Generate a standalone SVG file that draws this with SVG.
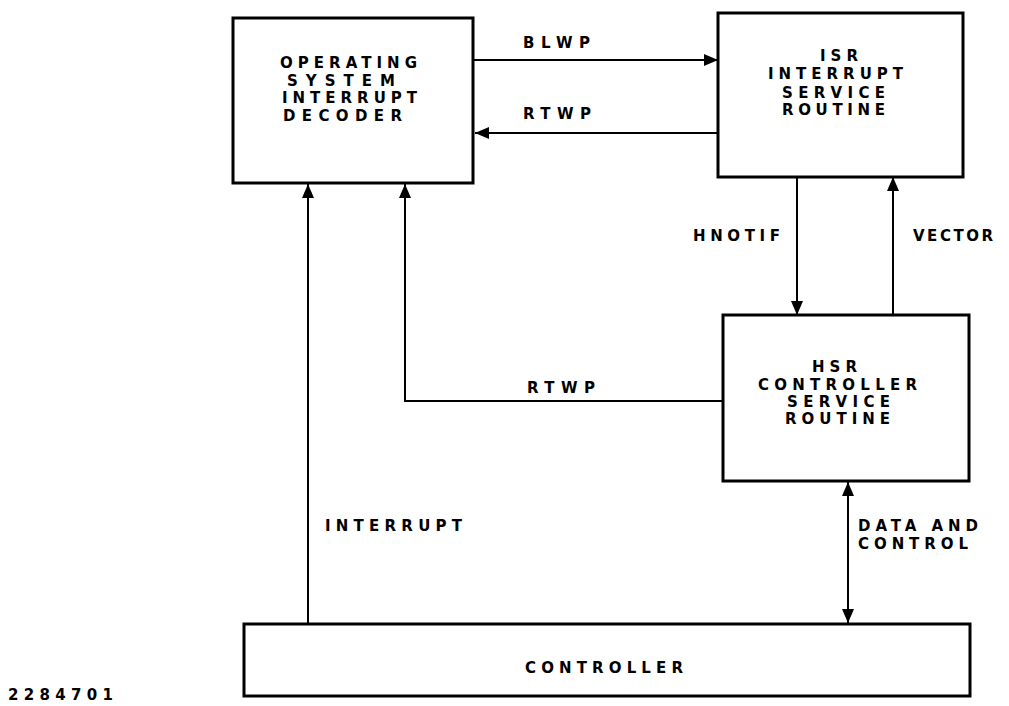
<svg xmlns="http://www.w3.org/2000/svg" width="1009" height="706" viewBox="0 0 1009 706">
<style>
.box{fill:#fff;stroke:#000;stroke-width:3}
.ln{fill:none;stroke:#000;stroke-width:2}
text{font-family:"DejaVu Sans","Liberation Sans",sans-serif;font-size:15px;font-weight:bold;fill:#000}
</style>
<defs>
<marker id="ah" markerUnits="userSpaceOnUse" markerWidth="14" markerHeight="12" refX="14" refY="6" orient="auto-start-reverse">
<path d="M0,0 L14,6 L0,12 z" fill="#000"/>
</marker>
</defs>
<rect width="1009" height="706" fill="#fff"/>
<g id="connectors">
<path class="ln" d="M474,60 H718" marker-end="url(#ah)"/>
<path class="ln" d="M718,133 H475" marker-end="url(#ah)"/>
<path class="ln" d="M797,177 V315" marker-end="url(#ah)"/>
<path class="ln" d="M893,315 V177" marker-end="url(#ah)"/>
<path class="ln" d="M723,401 H405 V184" marker-end="url(#ah)"/>
<path class="ln" d="M308,624 V184" marker-end="url(#ah)"/>
<path class="ln" d="M848,482 V623" marker-start="url(#ah)" marker-end="url(#ah)"/>
<text x="523" y="48" textLength="67" lengthAdjust="spacing">BLWP</text>
<text x="523" y="119" textLength="68" lengthAdjust="spacing">RTWP</text>
<text x="693" y="241" textLength="87" lengthAdjust="spacing">HNOTIF</text>
<text x="913" y="241" textLength="80" lengthAdjust="spacing">VECTOR</text>
<text x="527" y="393" textLength="68" lengthAdjust="spacing">RTWP</text>
<text x="325" y="531" textLength="137" lengthAdjust="spacing">INTERRUPT</text>
<text x="858" y="531" textLength="120" lengthAdjust="spacing">DATA AND</text>
<text x="858" y="549" textLength="110" lengthAdjust="spacing">CONTROL</text>
</g>
<g id="os">
<rect class="box" x="233" y="18" width="240" height="165"/>
<text x="280" y="68" textLength="137" lengthAdjust="spacing">OPERATING</text>
<text x="287" y="86" textLength="108" lengthAdjust="spacing">SYSTEM</text>
<text x="282" y="103" textLength="135" lengthAdjust="spacing">INTERRUPT</text>
<text x="283" y="121" textLength="119" lengthAdjust="spacing">DECODER</text>
</g>
<g id="isr">
<rect class="box" x="718" y="13" width="245" height="164"/>
<text x="820" y="61" textLength="38" lengthAdjust="spacing">ISR</text>
<text x="768" y="79" textLength="135" lengthAdjust="spacing">INTERRUPT</text>
<text x="782" y="98" textLength="103" lengthAdjust="spacing">SERVICE</text>
<text x="782" y="115" textLength="103" lengthAdjust="spacing">ROUTINE</text>
</g>
<g id="hsr">
<rect class="box" x="723" y="315" width="246" height="166"/>
<text x="812" y="372" textLength="45" lengthAdjust="spacing">HSR</text>
<text x="758" y="390" textLength="159" lengthAdjust="spacing">CONTROLLER</text>
<text x="787" y="407" textLength="103" lengthAdjust="spacing">SERVICE</text>
<text x="785" y="424" textLength="105" lengthAdjust="spacing">ROUTINE</text>
</g>
<g id="controller">
<rect class="box" x="244" y="624" width="726" height="72"/>
<text x="525" y="673" textLength="158" lengthAdjust="spacing">CONTROLLER</text>
</g>
<g id="figno">
<text x="8" y="700" textLength="105" lengthAdjust="spacing">2284701</text>
</g>
</svg>
